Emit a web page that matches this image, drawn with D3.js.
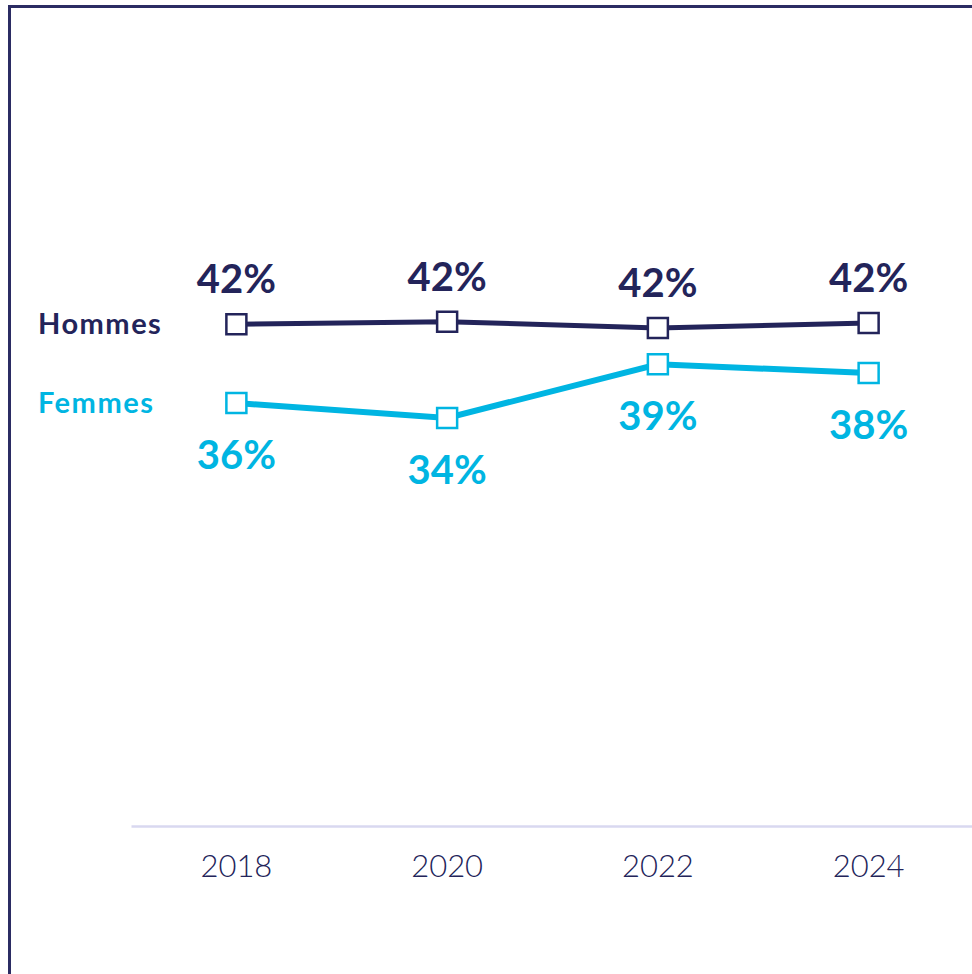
<!DOCTYPE html>
<html>
<head>
<meta charset="utf-8">
<script src="https://cdn.jsdelivr.net/npm/d3@7"></script>
<style>
  body { margin: 0; background: #fff; }
  svg { display: block; font-family: "Lato", "Noto Sans", sans-serif; }
</style>
</head>
<body>
<svg></svg>
<script>
// data (labels are the rounded values)
const years = ["2018", "2020", "2022", "2024"];
const hommes = [41.9, 42.1, 41.6, 42.0];
const femmes = [35.6, 34.4, 38.7, 38.0];
const seriesNames = ["Hommes", "Femmes"];

const width = 972;
const height = 974;
const navy = "#23245a";
const cyan = "#00b5e2";

const svg = d3.select("svg")
    .attr("width", width)
    .attr("height", height);

// frame (right and bottom edges fall outside the picture)
svg.append("rect")
    .attr("x", 9.5)
    .attr("y", 6.5)
    .attr("width", width + 20)
    .attr("height", height + 20)
    .attr("fill", "none")
    .attr("stroke", "#2b2c63")
    .attr("stroke-width", 3);

const x = d3.scaleBand()
    .domain(years)
    .range([131, 974]);

const y = d3.scaleLinear()
    .domain([0, 50])
    .range([848, 223]);

const cx = function (d, i) { return x(years[i]) + x.bandwidth() / 2; };

// x axis
const xAxis = svg.append("g")
    .attr("transform", "translate(0,826)")
    .call(d3.axisBottom(x).tickSize(0).tickPadding(29));
xAxis.select(".domain")
    .attr("stroke", "#d9d8f0")
    .attr("stroke-width", 2.5);
xAxis.selectAll("text")
    .attr("fill", navy)
    .style("font-size", "31px")
    .style("font-weight", "300")
    .style("font-family", "Lato, sans-serif");

const series = [
    { name: seriesNames[0], values: hommes, color: navy, width: 5, dy: -31 },
    { name: seriesNames[1], values: femmes, color: cyan, width: 6, dy: 66 }
];

const line = d3.line()
    .x(cx)
    .y(function (d) { return y(d); });

series.forEach(function (s) {
    const g = svg.append("g");

    g.append("path")
        .datum(s.values)
        .attr("d", line)
        .attr("fill", "none")
        .attr("stroke", s.color)
        .attr("stroke-width", s.width);

    g.selectAll("rect")
        .data(s.values)
        .enter().append("rect")
        .attr("x", function (d, i) { return cx(d, i) - 10; })
        .attr("y", function (d) { return y(d) - 10; })
        .attr("width", 20)
        .attr("height", 20)
        .attr("fill", "#fff")
        .attr("stroke", s.color)
        .attr("stroke-width", 2.5);

    // value labels
    g.selectAll("text.val")
        .data(s.values)
        .enter().append("text")
        .attr("class", "val")
        .attr("x", cx)
        .attr("y", function (d) { return y(d) + s.dy; })
        .attr("text-anchor", "middle")
        .attr("fill", s.color)
        .style("font-size", "40px")
        .style("font-weight", "bold")
        .text(function (d) { return Math.round(d) + "%"; });

    // series name at the left
    g.append("text")
        .attr("x", 38)
        .attr("y", y(s.values[0]))
        .attr("dy", "0.35em")
        .attr("fill", s.color)
        .style("font-size", "29px")
        .style("font-weight", "bold")
        .style("letter-spacing", "1.5px")
        .text(s.name);
});
</script>
</body>
</html>
